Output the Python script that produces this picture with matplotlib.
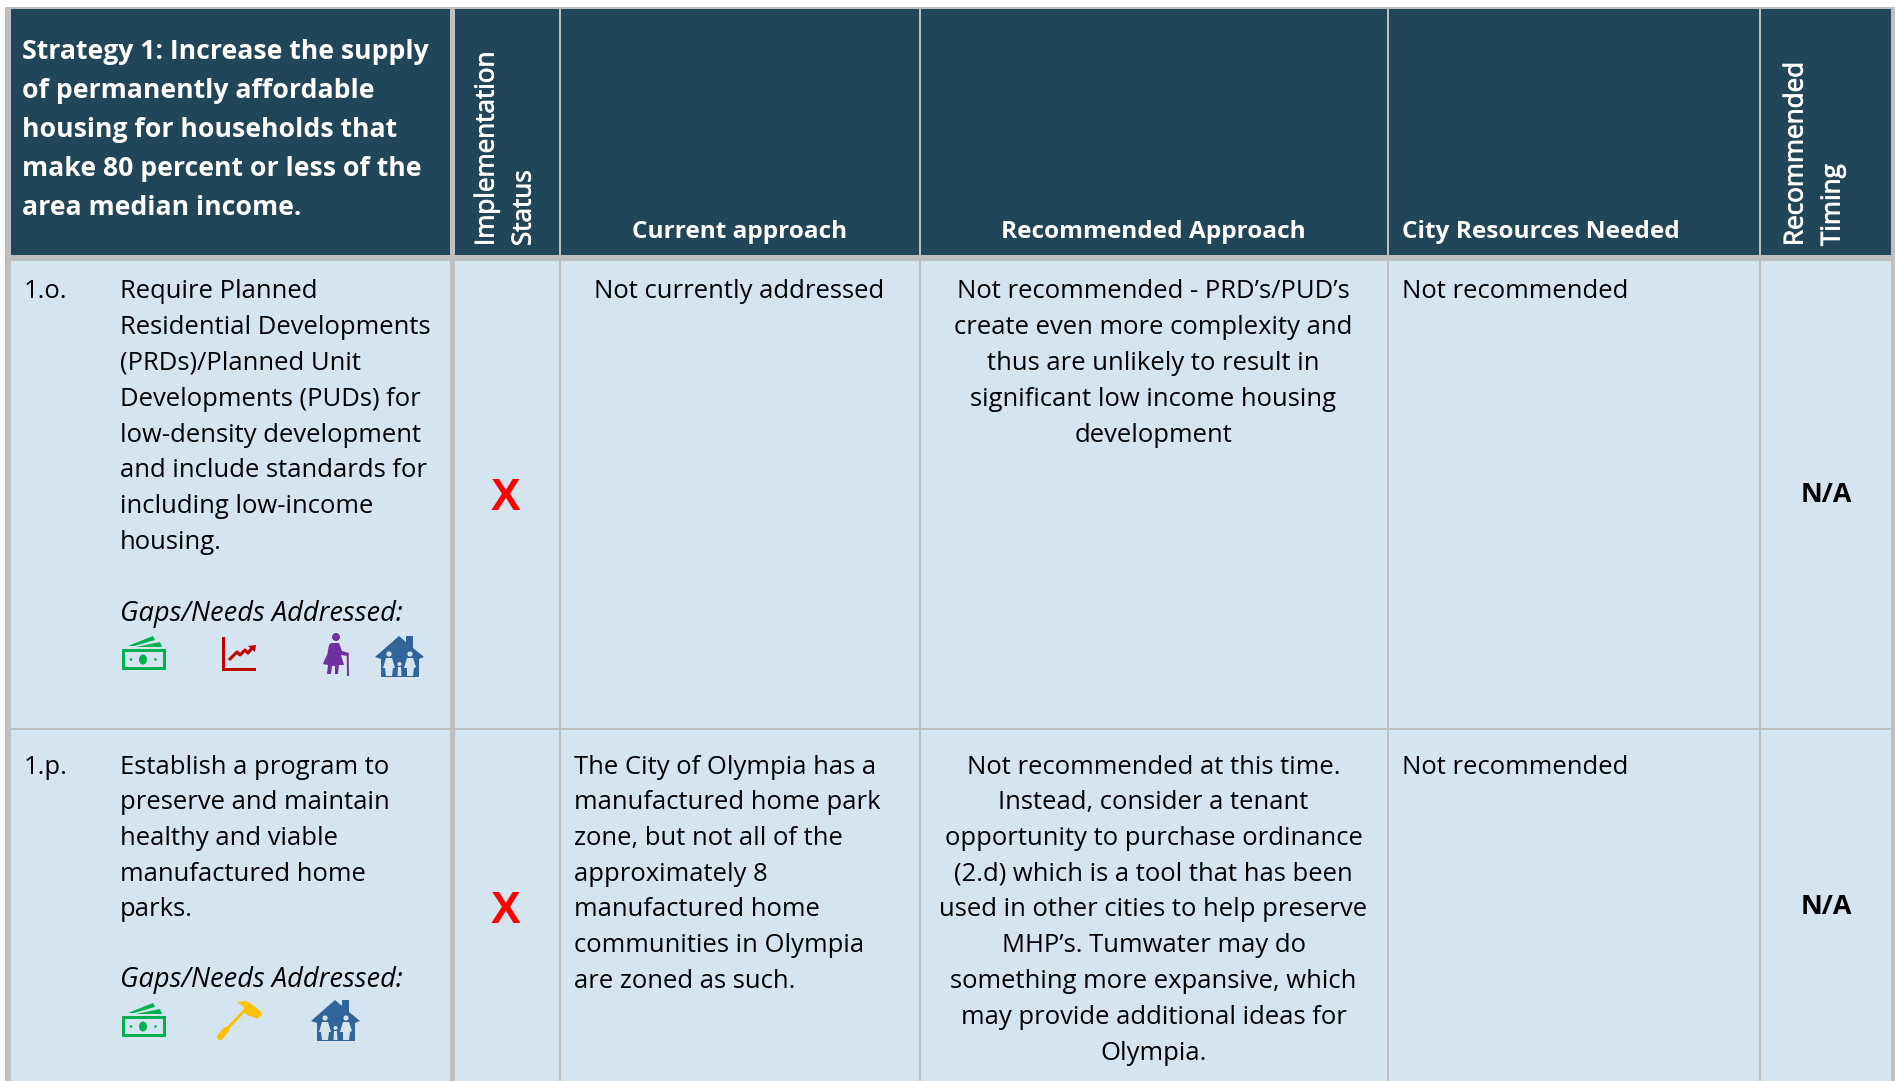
import matplotlib
matplotlib.use("Agg")
import matplotlib.pyplot as plt
import matplotlib.patheffects as pe
from matplotlib.patches import Rectangle, Polygon, Circle, Ellipse

W, H = 1895, 1081
DARK = "#214559"; LIGHT = "#D5E5EF"; GRID = "#BFBFBF"
FONT = "Open Sans"

strategy_title = ["Strategy 1: Increase the supply", "of permanently affordable",
                  "housing for households that", "make 80 percent or less of the",
                  "area median income."]
rot_headers = [["Implementation", "Status"], ["Recommended", "Timing"]]
col_headers = ["Current approach", "Recommended Approach", "City Resources Needed"]
row_ids = ["1.o.", "1.p."]
row_names = [["Require Planned", "Residential Developments", "(PRDs)/Planned Unit",
              "Developments (PUDs) for", "low-density development",
              "and include standards for", "including low-income", "housing."],
             ["Establish a program to", "preserve and maintain", "healthy and viable",
              "manufactured home", "parks."]]
gaps_label = "Gaps/Needs Addressed:"
current = [["Not currently addressed"],
           ["The City of Olympia has a", "manufactured home park", "zone, but not all of the",
            "approximately 8", "manufactured home", "communities in Olympia", "are zoned as such."]]
recommended = [["Not recommended - PRD\u2019s/PUD\u2019s", "create even more complexity and",
                "thus are unlikely to result in", "significant low income housing", "development"],
               ["Not recommended at this time.", "Instead, consider a tenant",
                "opportunity to purchase ordinance", "(2.d) which is a tool that has been",
                "used in other cities to help preserve", "MHP\u2019s. Tumwater may do",
                "something more expansive, which", "may provide additional ideas for", "Olympia."]]
resources = ["Not recommended", "Not recommended"]
status = ["X", "X"]
timing = ["N/A", "N/A"]

fig = plt.figure(figsize=(W / 100, H / 100), dpi=100)
ax = fig.add_axes([0, 0, 1, 1])
ax.set_xlim(0, W); ax.set_ylim(H, 0); ax.axis("off")

def rect(x0, y0, x1, y1, c, z=1):
    ax.add_patch(Rectangle((x0, y0), x1 - x0, y1 - y0, fc=c, ec="none", lw=0, zorder=z))

rect(5, 7, 1895, H, GRID, 0)
for x0, x1 in [(11, 450), (455, 559), (561, 919), (921, 1387), (1389, 1759), (1761, 1891)]:
    rect(x0, 9, x1, 255, DARK)
    rect(x0, 261, x1, 728, LIGHT)
    rect(x0, 730, x1, H, LIGHT)

BODY = 18.45
PITCH = 35.75

def lines(items, x, y, ha="left", size=BODY, color="black", pitch=PITCH, **kw):
    for i, s in enumerate(items):
        ax.text(x, y + i * pitch, s, ha=ha, va="baseline", fontsize=size, color=color,
                family=FONT, zorder=5, **kw)

lines(strategy_title, 22, 59, size=19.15, color="white", pitch=39.1, fontweight="bold")
for hdr, x in zip(rot_headers, [487, 1796]):
    for t, dx in zip(hdr, [0, 37]):
        ax.text(x + dx, 246, t, rotation=90, ha="center", va="bottom", fontsize=18.75,
                color="white", family=FONT, zorder=5,
                path_effects=[pe.withStroke(linewidth=0.6, foreground="white")])
for t, x, ha in zip(col_headers, [739.5, 1153.5, 1402], ["center", "center", "left"]):
    ax.text(x, 238.5, t, ha=ha, va="baseline", fontsize=17.6, color="white", family=FONT,
            fontweight="bold", zorder=5)

row_base = [298.5, 773.5]
gaps_base = [621.5, 987.5]
mark_y = [494, 907]
for r in range(2):
    y = row_base[r]
    lines([row_ids[r]], 24, y)
    lines(row_names[r], 120, y)
    ax.text(120, gaps_base[r], gaps_label, fontsize=19.6, style="italic", family=FONT,
            va="baseline", zorder=5)
    if r == 0:
        lines(current[r], 739.5, y, ha="center")
    else:
        lines(current[r], 574, y)
    lines(recommended[r], 1153.5, y, ha="center")
    lines([resources[r]], 1402, y)
    ax.text(505, mark_y[r] + 16, status[r], color="#FF0000", fontsize=32, fontweight="bold",
            family="Liberation Sans", ha="center", va="baseline", zorder=5)
    ax.text(1826, mark_y[r] + 7.5, timing[r], fontsize=19.4, fontweight="bold", family=FONT,
            ha="center", va="baseline", zorder=5)

# icons (decoration, drawn in pixel space)
def poly(pts, c, dx=0, dy=0, z=6):
    ax.add_patch(Polygon([(a + dx, b + dy) for a, b in pts], closed=True, fc=c, ec="none", zorder=z))

def money(dx, dy):
    g = "#00B050"
    rect(122 + dx, 649 + dy, 166 + dx, 670 + dy, g, 6)
    rect(125 + dx, 652 + dy, 163 + dx, 667 + dy, LIGHT, 6)
    ax.add_patch(Ellipse((143 + dx, 659.5 + dy), 8, 10, fc=g, ec="none", zorder=7))
    for cx in (131, 155.5):
        ax.add_patch(Circle((cx + dx, 659.5 + dy), 1.3, fc=g, ec="none", zorder=7))
    poly([(128, 646), (153, 636), (155, 640), (134, 646)], g, dx, dy)
    poly([(136, 647), (160, 642), (162, 647)], g, dx, dy)

def chart(dx, dy):
    c = "#C00000"
    rect(222 + dx, 637 + dy, 225 + dx, 671 + dy, c, 6)
    rect(222 + dx, 667.5 + dy, 256 + dx, 671 + dy, c, 6)
    ax.plot([229 + dx, 237 + dx, 240 + dx, 245 + dx, 248 + dx, 252 + dx],
            [660 + dy, 652 + dy, 655 + dy, 650 + dy, 653 + dy, 648 + dy], color=c, lw=2.2, zorder=6,
            solid_capstyle="butt")
    poly([(248, 646), (256, 645), (255, 652)], c, dx, dy)

def grandma(dx, dy):
    c = "#7030A0"
    ax.add_patch(Circle((336 + dx, 637 + dy), 4, fc=c, ec="none", zorder=6))
    poly([(331, 643), (339, 643), (342, 651), (349, 653), (348, 656), (341, 655), (344, 665),
          (339, 665), (338, 674), (335, 674), (335, 666), (332, 666), (331, 674), (327, 674),
          (328, 665), (323, 664), (327, 654), (326, 661), (329, 645)], c, dx, dy)
    ax.plot([347.7 + dx, 348 + dx], [655 + dy, 675 + dy], color=c, lw=1.4, zorder=6)

def house(dx, dy):
    c = "#31659A"
    poly([(375, 657), (399, 636), (406, 642), (406, 636), (413, 636), (413, 648), (424, 657),
          (419, 659), (419, 677), (381, 677), (381, 659)], c, dx, dy)
    w = "#D5E5EF"
    ax.add_patch(Circle((389 + dx, 654 + dy), 2.6, fc=w, ec="none", zorder=7))
    poly([(386, 658), (392, 658), (395, 668), (393, 668), (392, 676), (386, 676), (385, 668), (383, 668)], w, dx, dy)
    ax.add_patch(Circle((410 + dx, 654 + dy), 2.6, fc=w, ec="none", zorder=7))
    poly([(407, 658), (413, 658), (416, 667), (414, 668), (413, 676), (407, 676), (407, 668), (404, 668)], w, dx, dy)
    ax.add_patch(Circle((399.5 + dx, 664 + dy), 2, fc=w, ec="none", zorder=7))
    poly([(398, 667), (401, 667), (401.5, 676), (397.5, 676)], w, dx, dy)

def hammer(dx, dy):
    c = "#FFC000"
    ax.plot([220 + dx, 226 + dx], [1037 + dy, 1030 + dy], color=c, lw=4.5, zorder=6, solid_capstyle="round")
    ax.plot([226 + dx, 245 + dx], [1030 + dy, 1010 + dy], color=c, lw=2, zorder=6)
    poly([(237, 1002), (246, 1001), (253, 1005), (261, 1012), (262, 1015), (257, 1019), (254, 1017),
          (249, 1016), (244, 1012), (244, 1007)], c, dx, dy)

money(0, 0); chart(0, 0); grandma(0, 0); house(0, 0)
money(0, 367); hammer(0, 0); house(-64, 364)

fig.savefig("out.png", dpi=100, facecolor="white")
